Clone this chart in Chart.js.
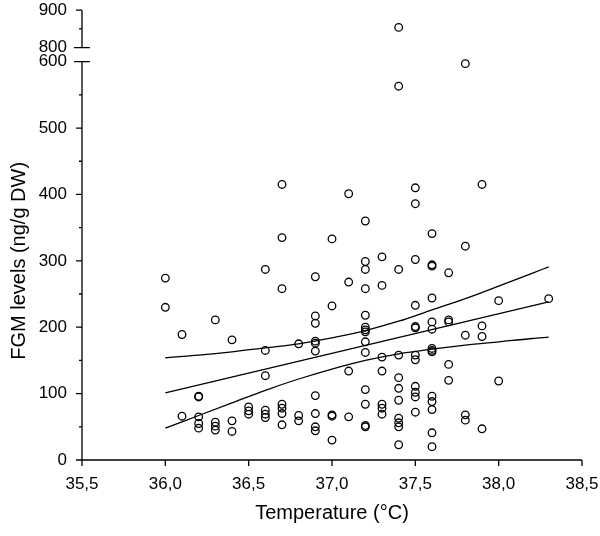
<!DOCTYPE html>
<html>
<head>
<meta charset="utf-8">
<script src="https://cdn.jsdelivr.net/npm/chart.js@4"></script>
<style>
  html, body { margin: 0; padding: 0; background: #fff; }
  #wrap { width: 600px; height: 536px; }
</style>
</head>
<body>
<div id="wrap"><canvas id="chart"></canvas></div>
<script>
// temperature groups (°C) and the FGM readings at each one (ng/g DW)
const temps = [36.0, 36.1, 36.2, 36.3, 36.4, 36.5, 36.6, 36.7, 36.8, 36.9, 37.0,
               37.1, 37.2, 37.3, 37.4, 37.5, 37.6, 37.7, 37.8, 37.9, 38.0, 38.3];
const fgm = [
  [274, 230],
  [189, 66],
  [96, 95, 65, 55, 48],
  [211, 57, 51, 45],
  [181, 59, 43],
  [80, 74, 69],
  [287, 165, 127, 75, 69, 64],
  [415, 335, 258, 84, 78, 70, 53],
  [175, 67, 59],
  [276, 217, 206, 179, 176, 164, 97, 70, 50, 44],
  [333, 232, 68, 66, 30],
  [401, 268, 134, 65],
  [360, 299, 287, 258, 218, 200, 196, 193, 178, 162, 106, 84, 52, 50],
  [306, 263, 155, 134, 84, 78, 69],
  [854, 563, 287, 158, 124, 108, 90, 63, 56, 50, 23],
  [410, 386, 302, 233, 201, 199, 158, 151, 111, 102, 95, 72],
  [341, 294, 292, 244, 208, 197, 168, 165, 163, 96, 88, 76, 41, 20],
  [282, 211, 208, 144, 120],
  [597, 322, 188, 68, 60],
  [415, 202, 186, 47],
  [240, 119],
  [243]
];

// regression line and its confidence band
const fitX = [36.0, 38.3];
const fitY = [101, 238];
const bandX = [36.0, 36.2, 36.4, 36.6, 36.8, 37.0, 37.2, 37.4, 37.6, 37.8, 38.0, 38.2, 38.3];
const bandUpper = [154, 158, 163, 169, 175, 184, 195, 209, 226, 243, 262, 281, 291];
const bandLower = [48, 67, 86, 105, 122, 137, 150, 160, 167, 173, 178, 183, 185];

const xTicks = [35.5, 36.0, 36.5, 37.0, 37.5, 38.0, 38.5];
const yTicks = [0, 100, 200, 300, 400, 500, 600, 800, 900];
const yMinor = [50, 150, 250, 350, 450, 550, 850];

// broken y axis: 0-600 below the break, 800-900 squeezed above it
const LOW_TOP = 600, HIGH_BOTTOM = 800, HIGH_TOP = 900;
const BREAK_GAP = 14;
const HIGH_RATIO = 0.564;

class BrokenScale extends Chart.LinearScale {
  unitPx() {
    return (this.bottom - this.top - BREAK_GAP) /
      (LOW_TOP + (HIGH_TOP - HIGH_BOTTOM) * HIGH_RATIO);
  }
  getPixelForValue(v) {
    const u = this.unitPx();
    if (v <= LOW_TOP) return this.bottom - v * u;
    const hv = Math.max(v, HIGH_BOTTOM) - HIGH_BOTTOM;
    return this.bottom - LOW_TOP * u - BREAK_GAP - hv * u * HIGH_RATIO;
  }
  getValueForPixel(p) {
    const u = this.unitPx();
    const breakPx = this.bottom - LOW_TOP * u;
    if (p >= breakPx) return (this.bottom - p) / u;
    return HIGH_BOTTOM + (breakPx - BREAK_GAP - p) / (u * HIGH_RATIO);
  }
}
BrokenScale.id = "broken";
BrokenScale.defaults = Chart.LinearScale.defaults;
Chart.register(BrokenScale);

const points = [];
temps.forEach((t, i) => fgm[i].forEach(v => points.push({ x: t, y: v })));

const line = (xs, ys) => xs.map((x, i) => ({ x, y: ys[i] }));

const FONT = "'Liberation Sans', Arial, sans-serif";

const axesPlugin = {
  id: "axes",
  afterDraw(chart) {
    const { ctx } = chart;
    const x = chart.scales.x, y = chart.scales.y;
    const left = chart.chartArea.left, bottom = chart.chartArea.bottom;
    ctx.save();
    ctx.strokeStyle = "#000";
    ctx.lineWidth = 1.3;
    ctx.beginPath();
    // x axis
    ctx.moveTo(x.getPixelForValue(xTicks[0]), bottom);
    ctx.lineTo(x.getPixelForValue(xTicks[xTicks.length - 1]), bottom);
    xTicks.forEach(v => {
      const px = x.getPixelForValue(v);
      ctx.moveTo(px, bottom);
      ctx.lineTo(px, bottom + 6);
    });
    // y axis, two pieces
    ctx.moveTo(left, y.getPixelForValue(0));
    ctx.lineTo(left, y.getPixelForValue(LOW_TOP));
    ctx.moveTo(left, y.getPixelForValue(HIGH_BOTTOM));
    ctx.lineTo(left, y.getPixelForValue(HIGH_TOP));
    yTicks.forEach(v => {
      const py = y.getPixelForValue(v);
      const isBreak = v === LOW_TOP || v === HIGH_BOTTOM;
      ctx.moveTo(left - (isBreak ? 8 : 6), py);
      ctx.lineTo(left + (isBreak ? 8 : 0), py);
    });
    yMinor.forEach(v => {
      const py = y.getPixelForValue(v);
      ctx.moveTo(left - 3, py);
      ctx.lineTo(left, py);
    });
    ctx.stroke();

    // axis titles
    ctx.fillStyle = "#000";
    ctx.font = "20px " + FONT;
    ctx.textAlign = "center";
    ctx.textBaseline = "middle";
    ctx.fillText("Temperature (°C)", (x.left + x.right) / 2, 513);
    ctx.translate(19, (y.getPixelForValue(0) + y.getPixelForValue(LOW_TOP)) / 2);
    ctx.rotate(-Math.PI / 2);
    ctx.fillText("FGM levels (ng/g DW)", 0, 0);
    ctx.restore();
  }
};

new Chart(document.getElementById("chart"), {
  type: "scatter",
  data: {
    datasets: [
      {
        label: "FGM",
        data: points,
        pointStyle: "circle",
        pointRadius: 3.8,
        pointBorderWidth: 1.3,
        pointBorderColor: "#000",
        pointBackgroundColor: "rgba(0,0,0,0)"
      },
      {
        label: "fit",
        data: line(fitX, fitY),
        showLine: true,
        pointRadius: 0,
        borderColor: "#000",
        borderWidth: 1.3
      },
      {
        label: "upper",
        data: line(bandX, bandUpper),
        showLine: true,
        cubicInterpolationMode: "monotone",
        pointRadius: 0,
        borderColor: "#000",
        borderWidth: 1.3
      },
      {
        label: "lower",
        data: line(bandX, bandLower),
        showLine: true,
        cubicInterpolationMode: "monotone",
        pointRadius: 0,
        borderColor: "#000",
        borderWidth: 1.3
      }
    ]
  },
  options: {
    responsive: true,
    maintainAspectRatio: false,
    animation: false,
    events: [],
    layout: { padding: { top: 9, right: 18, left: 0, bottom: 0 } },
    plugins: { legend: { display: false }, tooltip: { enabled: false } },
    scales: {
      x: {
        type: "linear",
        min: 35.5,
        max: 38.5,
        afterBuildTicks: s => { s.ticks = xTicks.map(v => ({ value: v })); },
        afterFit: s => { s.height = 76; },
        grid: { display: false, drawTicks: true, tickLength: 14 },
        border: { display: false },
        ticks: {
          autoSkip: false,
          maxRotation: 0,
          padding: 0,
          color: "#000",
          font: { family: FONT, size: 17 },
          callback: v => v.toFixed(1).replace(".", ",")
        }
      },
      y: {
        type: "broken",
        min: 0,
        max: 900,
        afterBuildTicks: s => { s.ticks = yTicks.map(v => ({ value: v })); },
        afterFit: s => { s.width = 82; },
        grid: { display: false, drawTicks: true, tickLength: 15 },
        border: { display: false },
        ticks: {
          autoSkip: false,
          padding: 0,
          color: "#000",
          font: { family: FONT, size: 17 },
          callback: v => String(v)
        }
      }
    }
  },
  plugins: [axesPlugin]
});
</script>
</body>
</html>
